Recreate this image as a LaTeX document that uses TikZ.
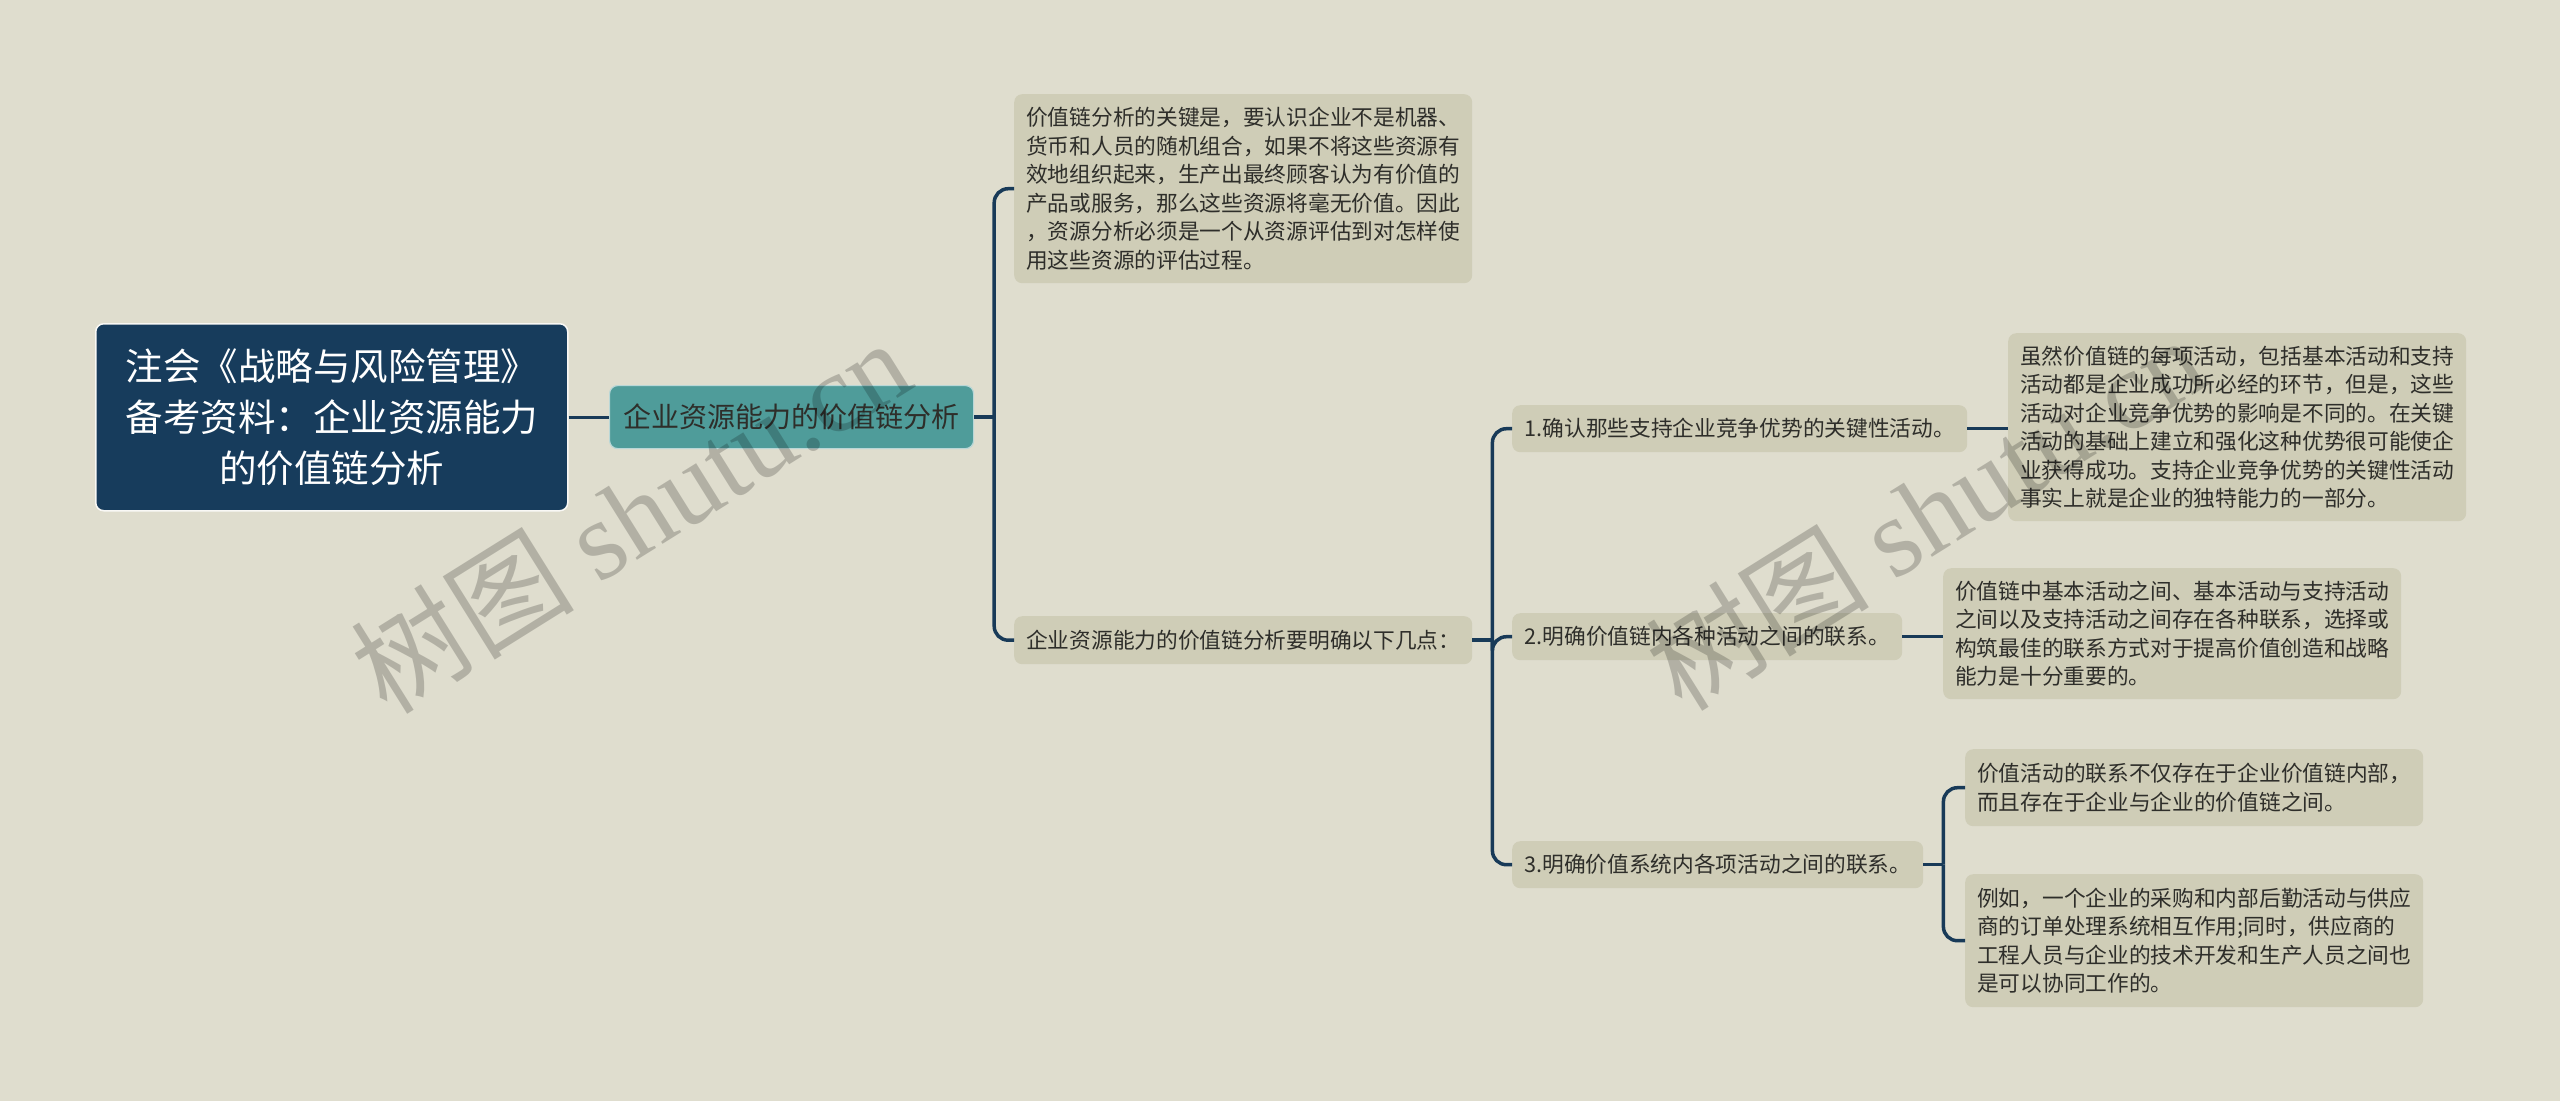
\documentclass[tikz,border=0pt]{standalone}
\usepackage{fontspec}
\setmainfont{Noto Sans CJK SC}
\newfontfamily\wmserif{Liberation Serif}
\usetikzlibrary{calc}
\definecolor{bgc}{HTML}{DFDDCE}
\definecolor{boxc}{HTML}{CFCDB7}
\definecolor{rootc}{HTML}{173C5C}
\definecolor{tealc}{HTML}{4F9C9A}
\definecolor{linec}{HTML}{183A58}
\definecolor{txtc}{HTML}{2E2E2A}
\begin{document}
\begin{tikzpicture}[x=1pt,y=-1pt,
  rootbox/.style={anchor=north west, fill=rootc, draw=white!80!bgc, line width=1.5pt,
    rounded corners=8pt, text=white, align=center, inner xsep=12pt,
    minimum width=472pt, minimum height=187pt,
    font=\fontsize{37.5}{51}\selectfont},
  tealbox/.style={anchor=north west, fill=tealc, draw=white!60!tealc, line width=1.2pt,
    rounded corners=8pt, text=txtc, inner xsep=12pt,
    minimum width=364pt, minimum height=63pt,
    font=\fontsize{28}{34}\selectfont},
  textbox/.style={anchor=north west, fill=boxc, rounded corners=8pt, text=txtc,
    align=left, inner xsep=12pt, inner ysep=8pt,
    font=\fontsize{21.7}{28.5}\selectfont},
  conn/.style={draw=linec, line width=3.5pt},
  curved/.style={conn, rounded corners=14pt},
  watermark/.style={text=black, text opacity=0.2, rotate=32,
    font=\fontsize{112}{112}\selectfont}
]
\fill[bgc] (0,0) rectangle (2560,1101);
\useasboundingbox (0,0) rectangle (2560,1101);

% nodes
\node[rootbox] (root) at (95,323) {注会《战略与风险管理》\\备考资料：企业资源能力\\的价值链分析};
\node[tealbox] (mid) at (609,385) {企业资源能力的价值链分析};

\node[textbox, minimum width=458pt, minimum height=189pt] (c1) at (1014,94)
 {价值链分析的关键是，要认识企业不是机器、\\
  货币和人员的随机组合，如果不将这些资源有\\
  效地组织起来，生产出最终顾客认为有价值的\\
  产品或服务，那么这些资源将毫无价值。因此\\
  ，资源分析必须是一个从资源评估到对怎样使\\
  用这些资源的评估过程。};
\node[textbox, minimum width=458pt, minimum height=48pt] (c2) at (1014,616)
 {企业资源能力的价值链分析要明确以下几点：};

\node[textbox, minimum width=455pt, minimum height=47pt] (s1) at (1512,405)
 {1.确认那些支持企业竞争优势的关键性活动。};
\node[textbox, minimum width=390pt, minimum height=47pt] (s2) at (1512,613)
 {2.明确价值链内各种活动之间的联系。};
\node[textbox, minimum width=411pt, minimum height=47pt] (s3) at (1512,841)
 {3.明确价值系统内各项活动之间的联系。};

\node[textbox, minimum width=458pt, minimum height=188pt] (d1) at (2008,333)
 {虽然价值链的每项活动，包括基本活动和支持\\
  活动都是企业成功所必经的环节，但是，这些\\
  活动对企业竞争优势的影响是不同的。在关键\\
  活动的基础上建立和强化这种优势很可能使企\\
  业获得成功。支持企业竞争优势的关键性活动\\
  事实上就是企业的独特能力的一部分。};
\node[textbox, minimum width=457pt, minimum height=131pt] (d2) at (1943,568)
 {价值链中基本活动之间、基本活动与支持活动\\
  之间以及支持活动之间存在各种联系，选择或\\
  构筑最佳的联系方式对于提高价值创造和战略\\
  能力是十分重要的。};
\node[textbox, minimum width=458pt, minimum height=77pt] (d3a) at (1965,749)
 {价值活动的联系不仅存在于企业价值链内部，\\
  而且存在于企业与企业的价值链之间。};
\node[textbox, minimum width=458pt, minimum height=133pt] (d3b) at (1965,874)
 {例如，一个企业的采购和内部后勤活动与供应\\
  商的订单处理系统相互作用;同时，供应商的\\
  工程人员与企业的技术开发和生产人员之间也\\
  是可以协同工作的。};

% connectors
\draw[conn] (root.east) -- (root.east -| mid.west);
\coordinate (j1) at ($(mid.east)+(20,0)$);
\draw[conn] (mid.east) -- (j1);
\draw[curved] (j1) |- (c1.west);
\draw[curved] (j1) |- (c2.west);

\coordinate (j2) at ($(c2.east)+(20,0)$);
\draw[conn] (c2.east) -- (j2);
\draw[curved] (j2) |- (s1.west);
\draw[curved] (j2) |- (s2.west);
\draw[curved] (j2) |- (s3.west);

\draw[conn] (s1.east) -- (s1.east -| d1.west);
\draw[conn] (s2.east) -- (s2.east -| d2.west);

\coordinate (j3) at ($(s3.east)+(20,0)$);
\draw[conn] (s3.east) -- (j3);
\draw[curved] (j3) |- (d3a.west);
\draw[curved] (j3) |- (d3b.west);

% watermarks
\node[watermark] (wm1) at (630,515) {树图 {\wmserif shutu.cn}};
\node[watermark] (wm2) at (1925,512) {树图 {\wmserif shutu.cn}};
\end{tikzpicture}
\end{document}
